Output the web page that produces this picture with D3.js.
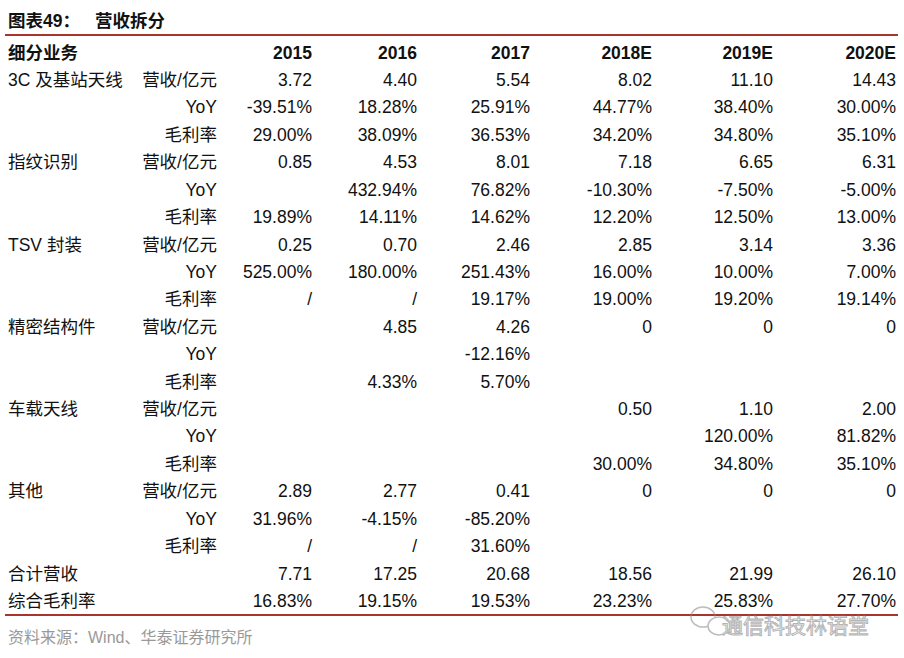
<!DOCTYPE html>
<html>
<head>
<meta charset="utf-8">
<script src="https://cdn.jsdelivr.net/npm/d3@7"></script>
<style>
  html, body { margin: 0; padding: 0; background: #fff; }
  svg { display: block; }
</style>
</head>
<body>
<svg id="chart" width="904" height="658"></svg>
<script>
const titleParts = ["图表49：", "营收拆分"];
const headerLabel = "细分业务";
const years = ["2015", "2016", "2017", "2018E", "2019E", "2020E"];
const segments = ["3C 及基站天线", "指纹识别", "TSV 封装", "精密结构件", "车载天线", "其他"];
const metrics = ["营收/亿元", "YoY", "毛利率"];

const revenue = [
  ["3.72", "4.40", "5.54", "8.02", "11.10", "14.43"],
  ["0.85", "4.53", "8.01", "7.18", "6.65", "6.31"],
  ["0.25", "0.70", "2.46", "2.85", "3.14", "3.36"],
  ["", "4.85", "4.26", "0", "0", "0"],
  ["", "", "", "0.50", "1.10", "2.00"],
  ["2.89", "2.77", "0.41", "0", "0", "0"]
];
const yoy = [
  ["-39.51%", "18.28%", "25.91%", "44.77%", "38.40%", "30.00%"],
  ["", "432.94%", "76.82%", "-10.30%", "-7.50%", "-5.00%"],
  ["525.00%", "180.00%", "251.43%", "16.00%", "10.00%", "7.00%"],
  ["", "", "-12.16%", "", "", ""],
  ["", "", "", "", "120.00%", "81.82%"],
  ["31.96%", "-4.15%", "-85.20%", "", "", ""]
];
const grossMargin = [
  ["29.00%", "38.09%", "36.53%", "34.20%", "34.80%", "35.10%"],
  ["19.89%", "14.11%", "14.62%", "12.20%", "12.50%", "13.00%"],
  ["/", "/", "19.17%", "19.00%", "19.20%", "19.14%"],
  ["", "4.33%", "5.70%", "", "", ""],
  ["", "", "", "30.00%", "34.80%", "35.10%"],
  ["/", "/", "31.60%", "", "", ""]
];
const totalLabels = ["合计营收", "综合毛利率"];
const totalRevenue = ["7.71", "17.25", "20.68", "18.56", "21.99", "26.10"];
const totalMargin = ["16.83%", "19.15%", "19.53%", "23.23%", "25.83%", "27.70%"];
const source = "资料来源：Wind、华泰证券研究所";
const watermark = "通信科技林语堂";

// ---- build rows ----
const rows = [];
segments.forEach((seg, i) => {
  const sets = [revenue[i], yoy[i], grossMargin[i]];
  metrics.forEach((m, j) => {
    rows.push({ label: j === 0 ? seg : "", metric: m, values: sets[j] });
  });
});
rows.push({ label: totalLabels[0], metric: "", values: totalRevenue });
rows.push({ label: totalLabels[1], metric: "", values: totalMargin });

const svg = d3.select("#chart");
const FONT = "'Liberation Sans', Arial, 'Noto Sans CJK SC', sans-serif";
const RED = "#a8352c";

const y = d3.scalePoint().domain(d3.range(rows.length)).range([80, 601]);
const x = d3.scaleOrdinal().domain(years).range([312, 417, 530, 652, 773, 896]);
const metricX = 217;
const labelX = 8;

// title
svg.selectAll("text.title").data(titleParts).enter().append("text")
  .attr("class", "title")
  .attr("x", (d, i) => i === 0 ? 8 : 95).attr("y", 21)
  .attr("dominant-baseline", "central")
  .attr("font-family", FONT).attr("font-size", 17.5).attr("font-weight", "bold")
  .attr("fill", "#111")
  .text(d => d);

// top line
svg.append("line").attr("x1", 5).attr("x2", 898).attr("y1", 35).attr("y2", 35)
  .attr("stroke", RED).attr("stroke-width", 2.2);

// header
const headY = 53;
svg.append("text")
  .attr("x", labelX).attr("y", headY).attr("dominant-baseline", "central")
  .attr("font-family", FONT).attr("font-size", 17.5).attr("font-weight", "bold")
  .attr("fill", "#111").text(headerLabel);
svg.selectAll("text.year").data(years).enter().append("text")
  .attr("class", "year")
  .attr("x", d => x(d)).attr("y", headY)
  .attr("text-anchor", "end").attr("dominant-baseline", "central")
  .attr("font-family", FONT).attr("font-size", 17.5).attr("font-weight", "bold")
  .attr("fill", "#111").text(d => d);

// body rows
const g = svg.selectAll("g.row").data(rows).enter().append("g")
  .attr("class", "row")
  .attr("transform", (d, i) => `translate(0,${y(i)})`);

g.append("text")
  .attr("x", labelX).attr("dominant-baseline", "central")
  .attr("font-family", FONT).attr("font-size", 17.5).attr("fill", "#111")
  .text(d => d.label);

g.append("text")
  .attr("x", metricX).attr("text-anchor", "end").attr("dominant-baseline", "central")
  .attr("font-family", FONT).attr("font-size", 17.5).attr("fill", "#111")
  .text(d => d.metric);

g.selectAll("text.val").data(d => d.values.map((v, k) => ({ v, year: years[k] })))
  .enter().append("text")
  .attr("class", "val")
  .attr("x", d => x(d.year)).attr("text-anchor", "end").attr("dominant-baseline", "central")
  .attr("font-family", FONT).attr("font-size", 17.5).attr("fill", "#111")
  .text(d => d.v);

// bottom line
svg.append("line").attr("x1", 5).attr("x2", 898).attr("y1", 615).attr("y2", 615)
  .attr("stroke", RED).attr("stroke-width", 2.2);

// source
svg.append("text")
  .attr("x", 8).attr("y", 637).attr("dominant-baseline", "central")
  .attr("font-family", FONT).attr("font-size", 16).attr("fill", "#999")
  .text(source);

// watermark
const wm = svg.append("g").attr("opacity", 0.55);
wm.append("ellipse").attr("cx", 703).attr("cy", 617).attr("rx", 12).attr("ry", 10)
  .attr("fill", "none").attr("stroke", "#888").attr("stroke-width", 1.5);
wm.append("ellipse").attr("cx", 719).attr("cy", 626).attr("rx", 11).attr("ry", 9)
  .attr("fill", "#fff").attr("stroke", "#888").attr("stroke-width", 1.5);
wm.append("text")
  .attr("x", 722).attr("y", 625).attr("dominant-baseline", "central")
  .attr("font-family", FONT).attr("font-size", 21)
  .attr("fill", "#fff").attr("stroke", "#777").attr("stroke-width", 1)
  .text(watermark);
</script>
</body>
</html>
